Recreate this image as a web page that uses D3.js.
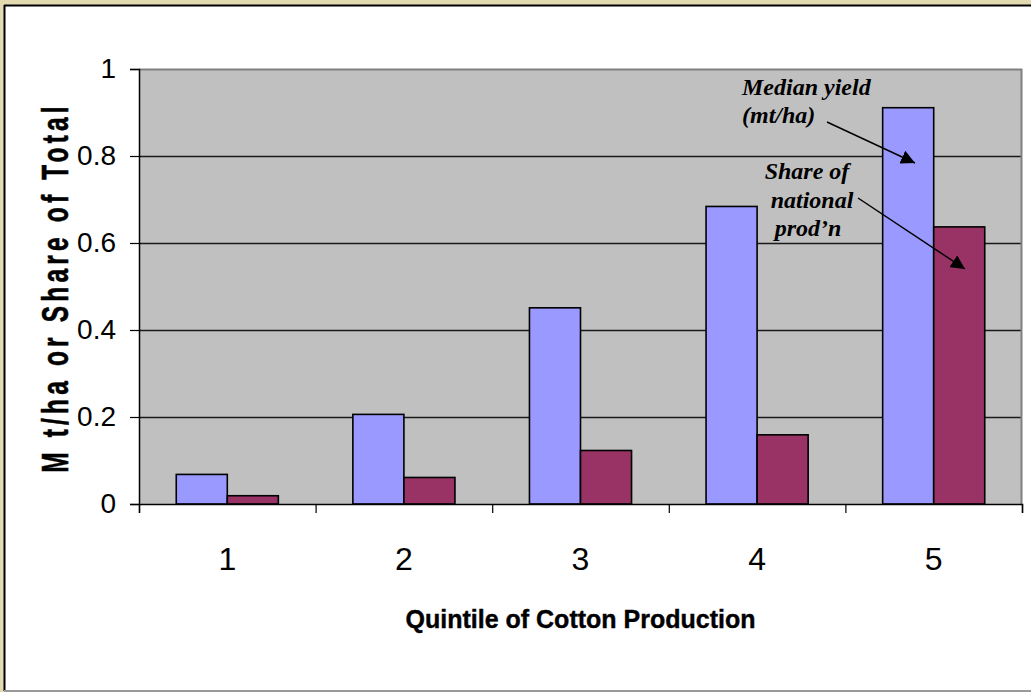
<!DOCTYPE html>
<html>
<head>
<meta charset="utf-8">
<script src="https://cdn.jsdelivr.net/npm/d3@7"></script>
<style>
  html, body { margin: 0; padding: 0; background: #e4dab2; }
  svg { display: block; }
</style>
</head>
<body>
<div class="chart"></div>
<script>
// values
const quintiles = ['1', '2', '3', '4', '5'];
const seriesNames = ['yield', 'share'];
const medianYield = [0.068, 0.206, 0.451, 0.684, 0.911];
const nationalShare = [0.019, 0.061, 0.123, 0.159, 0.637];
const yTicks = [0, 0.2, 0.4, 0.6, 0.8, 1];
const colors = {yield: '#9999ff', share: '#993366'};

const width = 1031, height = 692;
const margin = {top: 69, right: 9, bottom: 188, left: 139};
const innerWidth = width - margin.left - margin.right;
const innerHeight = height - margin.top - margin.bottom;
const sans = 'Liberation Sans, Arial, sans-serif';

const svg = d3.select('.chart').append('svg')
  .attr('width', width).attr('height', height);

// parchment edge + white panel
svg.append('rect').attr('width', width).attr('height', height).attr('fill', '#e4dab2');
svg.append('rect').attr('x', 4).attr('y', 5).attr('width', width).attr('height', 686)
  .attr('fill', '#fff');
svg.append('line').attr('x1', 4).attr('x2', width).attr('y1', 5.5).attr('y2', 5.5)
  .attr('stroke', '#000').attr('stroke-width', 2);
svg.append('line').attr('x1', 4.5).attr('x2', 4.5).attr('y1', 5).attr('y2', 691)
  .attr('stroke', '#000').attr('stroke-width', 2);
svg.append('line').attr('x1', 4).attr('x2', width).attr('y1', 691).attr('y2', 691)
  .attr('stroke', '#999').attr('stroke-width', 2);

const g = svg.append('g').attr('transform', `translate(${margin.left},${margin.top})`);

const yScale = d3.scaleLinear().domain([0, 1]).range([innerHeight, 0]);
const x0 = d3.scaleBand().domain(quintiles).range([0, innerWidth]);
const x1 = d3.scaleBand().domain(seriesNames).range([0, x0.bandwidth()])
  .paddingInner(0).paddingOuter(0.73);
const xEdge = d3.scaleLinear().domain([0, quintiles.length]).range([0, innerWidth]);

// plot area
g.append('rect').attr('width', innerWidth).attr('height', innerHeight).attr('fill', '#c0c0c0');

// gridlines
g.append('g')
  .call(d3.axisLeft(yScale).tickValues(yTicks.slice(1, -1)).tickSize(-innerWidth).tickFormat(''))
  .call(s => s.select('.domain').remove())
  .call(s => s.selectAll('line').attr('stroke', '#1a1a1a').attr('stroke-width', 1.3));

// top / right border of plot area
g.append('path')
  .attr('d', `M0,0.5H${innerWidth - 0.5}V${innerHeight}`)
  .attr('fill', 'none').attr('stroke', '#808080').attr('stroke-width', 2);

// bars
const rows = quintiles.map((q, i) => ({q, yield: medianYield[i], share: nationalShare[i]}));
g.selectAll('g.group').data(rows).join('g')
  .attr('class', 'group')
  .attr('transform', d => `translate(${x0(d.q)},0)`)
  .selectAll('rect').data(d => seriesNames.map(k => ({k, v: d[k]})))
  .join('rect')
  .attr('x', d => x1(d.k))
  .attr('y', d => yScale(d.v))
  .attr('width', x1.bandwidth())
  .attr('height', d => innerHeight - yScale(d.v))
  .attr('fill', d => colors[d.k])
  .attr('stroke', '#000').attr('stroke-width', 1.6);

// y axis
const yAxis = g.append('g')
  .call(d3.axisLeft(yScale).tickValues(yTicks).tickSize(9).tickPadding(14).tickFormat(d3.format('')));
yAxis.select('.domain').attr('stroke', '#000').attr('stroke-width', 1.5);
yAxis.selectAll('line').attr('stroke', '#000').attr('stroke-width', 1.2);
yAxis.selectAll('text')
  .attr('font-family', sans)
  .attr('font-size', 28).attr('fill', '#000').attr('dy', '0.3em');

// x axis (edge ticks)
const xAxis = g.append('g').attr('transform', `translate(0,${innerHeight})`)
  .call(d3.axisBottom(xEdge).ticks(5).tickSize(9).tickFormat(''));
xAxis.select('.domain').attr('stroke', '#000').attr('stroke-width', 1.5);
xAxis.selectAll('line').attr('stroke', '#000').attr('stroke-width', 1.2);

// category labels
g.selectAll('text.cat').data(quintiles).join('text')
  .attr('class', 'cat')
  .attr('x', d => x0(d) + x0.bandwidth() / 2)
  .attr('y', innerHeight + 66)
  .attr('text-anchor', 'middle')
  .attr('font-family', sans)
  .attr('font-size', 32)
  .text(d => d);

// axis titles
svg.append('text')
  .attr('x', margin.left + innerWidth / 2).attr('y', 628)
  .attr('text-anchor', 'middle')
  .attr('font-family', sans)
  .attr('font-weight', 'bold').attr('font-size', 25)
  .attr('stroke', '#000').attr('stroke-width', 0.4)
  .text('Quintile of Cotton Production');

svg.append('text')
  .attr('transform', 'translate(68,287.5) rotate(-90) scale(0.66,1)')
  .attr('text-anchor', 'middle')
  .attr('font-family', sans)
  .attr('font-weight', 'bold').attr('font-size', 37)
  .attr('stroke', '#000').attr('stroke-width', 0.6)
  .attr('letter-spacing', 6.4)
  .text('M t/ha or Share of Total');

// annotations
const defs = svg.append('defs');
defs.append('marker').attr('id', 'arrow')
  .attr('viewBox', '0 0 10 10').attr('refX', 10).attr('refY', 5)
  .attr('markerWidth', 14).attr('markerHeight', 14).attr('markerUnits', 'userSpaceOnUse')
  .attr('orient', 'auto')
  .append('path').attr('d', 'M0,0L10,5L0,10Z').attr('fill', '#000');

const note = svg.append('g')
  .attr('font-family', 'Liberation Serif, Times New Roman, serif')
  .attr('font-weight', 'bold').attr('font-style', 'italic')
  .attr('font-size', 24).attr('fill', '#000');
note.append('text').attr('x', 742).attr('y', 95).text('Median yield');
note.append('text').attr('x', 742).attr('y', 123).text('(mt/ha)');
note.append('text').attr('x', 807).attr('y', 179).attr('text-anchor', 'middle').text('Share of');
note.append('text').attr('x', 812).attr('y', 208).attr('text-anchor', 'middle').text('national');
note.append('text').attr('x', 808).attr('y', 236).attr('text-anchor', 'middle').text('prod\u2019n');

svg.append('line').attr('x1', 827).attr('y1', 122).attr('x2', 915).attr('y2', 163)
  .attr('stroke', '#000').attr('stroke-width', 1.5).attr('marker-end', 'url(#arrow)');
svg.append('line').attr('x1', 858).attr('y1', 198).attr('x2', 965).attr('y2', 269)
  .attr('stroke', '#000').attr('stroke-width', 1.5).attr('marker-end', 'url(#arrow)');
</script>
</body>
</html>
